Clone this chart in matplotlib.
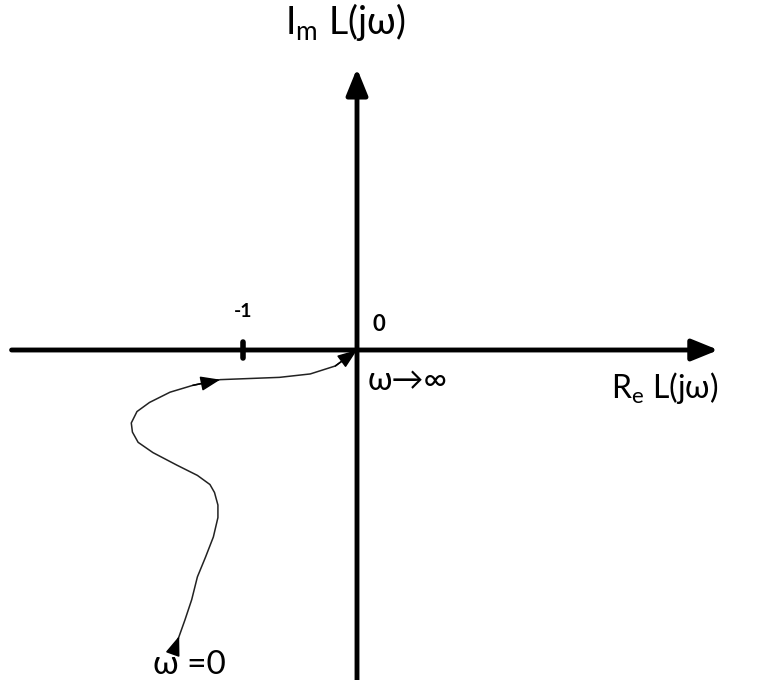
import matplotlib
matplotlib.use('Agg')
import matplotlib.pyplot as plt

plt.rcParams['font.family'] = ['Lato', 'DejaVu Sans']

# Nyquist sketch of L(jw) (1 unit = distance 0 to -1)
re_curve = [-1.61, -1.56, -1.51, -1.45, -1.40, -1.33, -1.26, -1.22, -1.22,
            -1.25, -1.29, -1.40, -1.58, -1.79, -1.92, -1.97, -1.98, -1.93,
            -1.82, -1.64, -1.44, -1.20, -0.94, -0.68, -0.41, -0.19, 0.0]
im_curve = [-2.65, -2.51, -2.37, -2.19, -1.99, -1.82, -1.64, -1.47, -1.36,
            -1.25, -1.18, -1.10, -1.01, -0.90, -0.81, -0.72, -0.64, -0.54,
            -0.46, -0.37, -0.31, -0.26, -0.25, -0.24, -0.21, -0.14, 0.0]
arrow_at = [0, 20, 25]   # arrowheads on the curve (segment start index)
tick_re = [-1]
tick_labels = ['-1']

fig = plt.figure(figsize=(7.6, 6.8), dpi=100)
ax = fig.add_axes([0, 0, 1, 1])
ax.set_xlim(-357 / 114, 403 / 114)
ax.set_ylim(-330 / 114, 350 / 114)
ax.axis('off')

# axes with arrows
big = dict(arrowstyle='-|>,head_length=1.6,head_width=0.65', lw=3.5,
           color='black', shrinkA=0, shrinkB=0, mutation_scale=10)
ax.annotate('', xy=(3.17, 0), xytext=(-3.03, 0), arrowprops=big)
ax.annotate('', xy=(0, 2.47), xytext=(0, -2.95), arrowprops=big)

# tick at -1
for t, lab in zip(tick_re, tick_labels):
    ax.plot([t, t], [-0.07, 0.07], color='black', lw=4, solid_capstyle='round')
    ax.text(t, 0.34, lab, ha='center', va='center', fontsize=14, fontweight='bold')
ax.text(0.19, 0.22, '0', ha='center', va='center', fontsize=16, fontweight='bold')

# the curve
ax.plot(re_curve, im_curve, color='#222222', lw=1.1, solid_joinstyle='round')

small = dict(arrowstyle='-|>,head_length=1.2,head_width=0.45', lw=1.1,
             color='black', shrinkA=0, shrinkB=0, mutation_scale=10)
for i in arrow_at:
    ax.annotate('', xy=(re_curve[i + 1], im_curve[i + 1]),
                xytext=(re_curve[i], im_curve[i]), arrowprops=small)

# labels
ax.text(-0.105, 2.88, r'I$_\mathregular{m}$ L(jω)', ha='center', va='center', fontsize=27)
ax.text(2.70, -0.33, r'R$_\mathregular{e}$ L(jω)', ha='center', va='center', fontsize=23)
ax.text(0.09, -0.27, 'ω→∞', ha='left', va='center', fontsize=23)
ax.text(-1.79, -2.76, 'ω =0', ha='left', va='center', fontsize=24)

fig.savefig('out.png', dpi=100)
